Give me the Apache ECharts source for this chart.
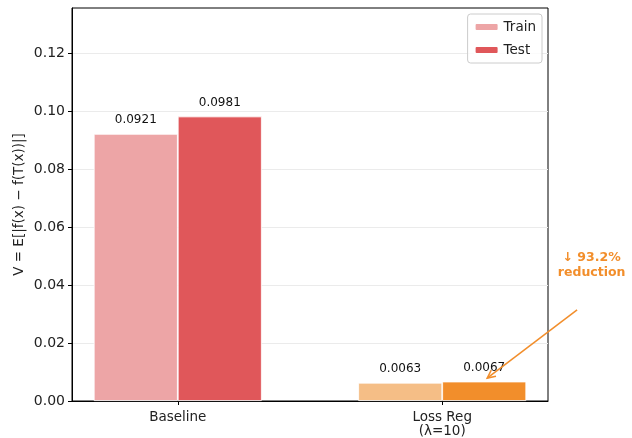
<!DOCTYPE html>
<html><head><meta charset="utf-8">
<script src="https://cdn.jsdelivr.net/npm/echarts@6/dist/echarts.min.js"></script>
<style>html,body{margin:0;padding:0;background:#fff}#c{width:632px;height:438px}</style>
</head><body><div id="c"></div>
<script>
const categories = ['Baseline', 'Loss Reg\n(λ=10)'];
const trainValues = [0.0921, 0.0063];
const testValues = [0.0981, 0.0067];
const trainColors = ['#EDA5A6', '#F5BE86'];
const testColors = ['#E0575A', '#F28E2B'];
const yTicks = [0, 0.02, 0.04, 0.06, 0.08, 0.10, 0.12];
const annotationText = '↓ 93.2%\nreduction';

const FONT = 'DejaVu Sans';
const chart = echarts.init(document.getElementById('c'), null, {renderer: 'canvas'});
const pos = categories.map((_, i) => i);

function barData(vals, cols) {
  return vals.map((v, i) => ({value: [pos[i], v], itemStyle: {color: cols[i]}}));
}

const option = {
  animation: false,
  backgroundColor: '#fff',
  grid: {left: 72, right: 84, top: 8, bottom: 37, show: true, borderColor: '#000', borderWidth: 1, backgroundColor: 'transparent'},
  legend: {
    right: 90, top: 14, orient: 'vertical', itemWidth: 24, itemHeight: 8, itemGap: 9,
    padding: [6, 6, 6, 6], borderColor: '#ccc', borderWidth: 1, borderRadius: 3,
    backgroundColor: 'rgba(255,255,255,0.8)',
    textStyle: {fontFamily: FONT, fontSize: 13.5, color: '#222'},
    data: [{name: 'Train', itemStyle: {color: trainColors[0]}}, {name: 'Test', itemStyle: {color: testColors[0]}}]
  },
  xAxis: {
    type: 'value', min: -0.4, max: 1.4,
    splitLine: {show: false},
    axisLine: {show: true, onZero: false, lineStyle: {color: '#000'}},
    axisTick: {show: true, customValues: pos, length: 4, lineStyle: {color: '#000'}},
    axisLabel: {show: true, customValues: pos, formatter: v => categories[Math.round(v)] || '',
      fontFamily: FONT, fontSize: 13.5, color: '#222', lineHeight: 14, margin: 9}
  },
  yAxis: {
    type: 'value', min: 0, max: 0.1355, interval: 0.02,
    name: 'V = E[|f(x) − f(T(x))|]', nameLocation: 'middle', nameGap: 46, nameMoveOverlap: false,
    nameTextStyle: {fontFamily: FONT, fontSize: 13.5, color: '#222'},
    axisLine: {show: true, onZero: false, lineStyle: {color: '#000'}},
    axisTick: {show: true, customValues: yTicks, length: 4, lineStyle: {color: '#000'}},
    axisLabel: {fontFamily: FONT, fontSize: 14, color: '#222', margin: 7, customValues: yTicks,
      formatter: v => v.toFixed(2)},
    splitLine: {show: true, lineStyle: {color: '#ebebeb', width: 1}},
    showMaxLabel: false
  },
  series: [
    {name: 'Train', type: 'bar', barWidth: 84, barGap: '0%', data: barData(trainValues, trainColors),
     itemStyle: {borderColor: '#fff', borderWidth: 0.8},
     label: {show: true, position: 'top', distance: 8, fontFamily: FONT, fontSize: 12, color: '#111',
       formatter: p => p.value[1].toFixed(4)}},
    {name: 'Test', type: 'bar', barWidth: 84, barGap: '0%', data: barData(testValues, testColors),
     itemStyle: {borderColor: '#fff', borderWidth: 0.8},
     label: {show: true, position: 'top', distance: 8, fontFamily: FONT, fontSize: 12, color: '#111',
       formatter: p => p.value[1].toFixed(4)}}
  ]
};
chart.setOption(option);

// Annotation arrow computed via axis scales
const tip = chart.convertToPixel({gridIndex: 0}, [1.17, 0.0079]);
const tail = chart.convertToPixel({gridIndex: 0}, [1.51, 0.0314]);
const txt = chart.convertToPixel({gridIndex: 0}, [1.565, 0.0468]);
const ang = Math.atan2(tip[1] - tail[1], tip[0] - tail[0]);
const hl = 9, hw = 0.45;
const orange = '#F28E2B';
chart.setOption({
  graphic: [
    {type: 'line', shape: {x1: tail[0], y1: tail[1], x2: tip[0], y2: tip[1]}, style: {stroke: orange, lineWidth: 1.5}, z: 100},
    {type: 'polyline', shape: {points: [
      [tip[0] - hl * Math.cos(ang - hw), tip[1] - hl * Math.sin(ang - hw)],
      [tip[0], tip[1]],
      [tip[0] - hl * Math.cos(ang + hw), tip[1] - hl * Math.sin(ang + hw)]
    ]}, style: {stroke: orange, lineWidth: 1.5, fill: null}, z: 100},
    {type: 'text', x: txt[0], y: txt[1], style: {text: annotationText, fill: orange, font: 'bold 12.5px "DejaVu Sans"',
      align: 'center', verticalAlign: 'middle', lineHeight: 15}, z: 100}
  ]
});
</script></body></html>
